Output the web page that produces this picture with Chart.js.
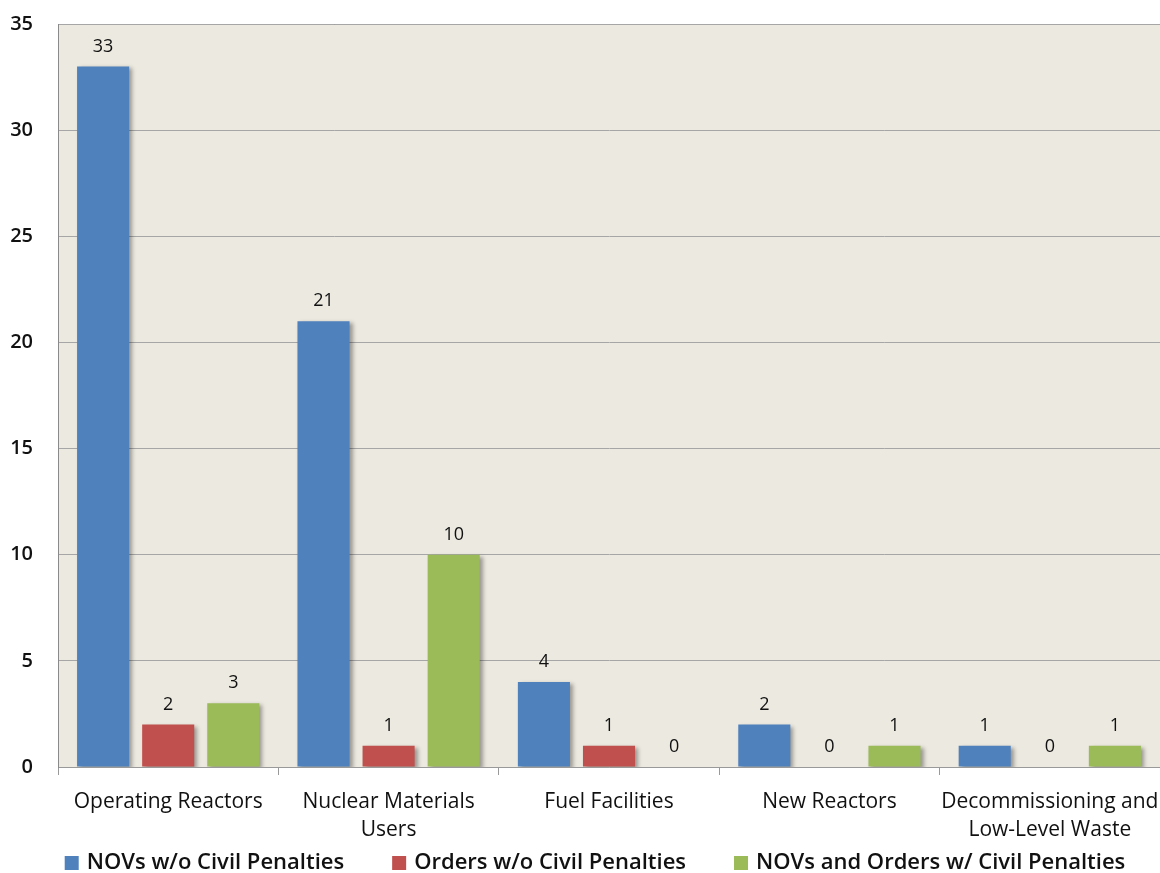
<!DOCTYPE html>
<html>
<head>
<meta charset="utf-8">
<script src="https://cdn.jsdelivr.net/npm/chart.js@4/dist/chart.umd.min.js"></script>
<style>
  html, body { margin: 0; padding: 0; background: #fff; }
  #wrap { width: 1160px; height: 873px; position: relative; }
</style>
</head>
<body>
<div id="wrap"><canvas id="chart"></canvas></div>
<script>
const categories = [
  'Operating Reactors',
  ['Nuclear Materials', 'Users'],
  'Fuel Facilities',
  'New Reactors',
  ['Decommissioning and', 'Low-Level Waste'],
];
const novsNoPenalty = [33, 21, 4, 2, 1];
const ordersNoPenalty = [2, 1, 1, 0, 0];
const withPenalty = [3, 10, 0, 1, 1];
const yTicks = [0, 5, 10, 15, 20, 25, 30, 35];

const FONT = "'Open Sans', 'Noto Sans', sans-serif";

/** Beige plot area with grey frame on the left and top */
const plotBackground = {
  id: 'plotBackground',
  beforeDraw(chart) {
    const { ctx, chartArea: a } = chart;
    ctx.save();
    ctx.fillStyle = '#ECE9E0';
    ctx.fillRect(a.left, a.top, a.right - a.left, a.bottom - a.top);
    ctx.strokeStyle = '#8a8a8a';
    ctx.lineWidth = 1;
    ctx.beginPath();
    ctx.moveTo(a.left + 0.5, a.bottom);
    ctx.lineTo(a.left + 0.5, a.top + 0.5);
    ctx.lineTo(a.right, a.top + 0.5);
    ctx.stroke();
    ctx.restore();
  },
};

/** Soft drop shadow behind the bars */
const barShadow = {
  id: 'barShadow',
  beforeDatasetsDraw(chart) {
    const ctx = chart.ctx;
    ctx.save();
    ctx.shadowColor = 'rgba(0,0,0,0.35)';
    ctx.shadowBlur = 4;
    ctx.shadowOffsetX = 3;
    ctx.shadowOffsetY = 2;
  },
  afterDatasetsDraw(chart) {
    chart.ctx.restore();
  },
};

/** Value labels above each bar */
const valueLabels = {
  id: 'valueLabels',
  afterDatasetsDraw(chart) {
    const ctx = chart.ctx;
    ctx.save();
    ctx.font = `18px ${FONT}`;
    ctx.fillStyle = '#111';
    ctx.textAlign = 'center';
    ctx.textBaseline = 'middle';
    chart.data.datasets.forEach((ds, i) => {
      chart.getDatasetMeta(i).data.forEach((bar, j) => {
        ctx.fillText(String(ds.data[j]), bar.x, bar.y - 20);
      });
    });
    ctx.restore();
  },
};

/** Legend row at the bottom: wide gaps between items, tight vertical size */
const bottomLegend = {
  id: 'bottomLegend',
  afterDraw(chart) {
    const ctx = chart.ctx;
    const box = 14, textGap = 8, itemGap = 48;
    const y = chart.height - 10;
    ctx.save();
    ctx.font = `600 22px ${FONT}`;
    ctx.textBaseline = 'middle';
    const items = chart.data.datasets.map(ds => ({
      label: ds.label, color: ds.backgroundColor,
      w: box + textGap + ctx.measureText(ds.label).width,
    }));
    const total = items.reduce((s, it) => s + it.w, 0) + itemGap * (items.length - 1);
    let x = (chart.width - total) / 2 + 15;
    items.forEach(it => {
      ctx.fillStyle = it.color;
      ctx.fillRect(x, y - box / 2, box, box);
      ctx.fillStyle = '#111';
      ctx.fillText(it.label, x + box + textGap, y);
      x += it.w + itemGap;
    });
    ctx.restore();
  },
};

new Chart(document.getElementById('chart'), {
  type: 'bar',
  data: {
    labels: categories,
    datasets: [
      { label: 'NOVs w/o Civil Penalties', data: novsNoPenalty, backgroundColor: '#4F81BD' },
      { label: 'Orders w/o Civil Penalties', data: ordersNoPenalty, backgroundColor: '#C0504D' },
      { label: 'NOVs and Orders w/ Civil Penalties', data: withPenalty, backgroundColor: '#9BBB59' },
    ],
  },
  options: {
    responsive: true,
    maintainAspectRatio: false,
    animation: false,
    layout: { padding: { top: 24, right: 0, left: 0, bottom: 34 } },
    datasets: { bar: { categoryPercentage: 0.886, barPercentage: 0.8 } },
    plugins: {
      legend: { display: false },
      tooltip: { enabled: false },
    },
    scales: {
      x: {
        afterFit(scale) {
          scale.height = 72;
          scale.paddingLeft = 0;
          scale.paddingRight = 0;
        },
        grid: { drawOnChartArea: false, drawTicks: true, tickLength: 8, color: '#999', offset: true },
        border: { color: '#999' },
        ticks: { color: '#111', font: { family: FONT, size: 21, lineHeight: 1.33 }, padding: 13, maxRotation: 0 },
      },
      y: {
        min: 0,
        max: 35,
        afterBuildTicks(scale) { scale.ticks = yTicks.map(v => ({ value: v })); },
        afterFit(scale) {
          scale.width = 58;
          scale.paddingTop = 0;
          scale.paddingBottom = 0;
        },
        grid: { color: '#A6A6A6', drawTicks: false },
        border: { color: '#8a8a8a' },
        ticks: { color: '#111', font: { family: FONT, size: 20, weight: '600' }, padding: 25 },
      },
    },
  },
  plugins: [plotBackground, barShadow, valueLabels, bottomLegend],
});
</script>
</body>
</html>
